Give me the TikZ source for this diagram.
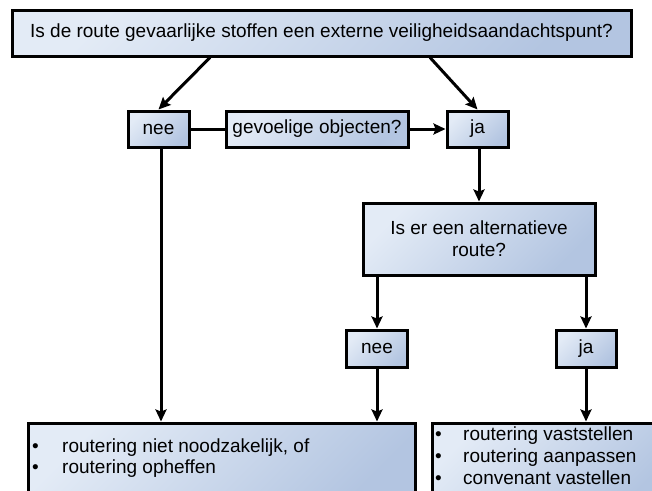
\documentclass[tikz,border=0pt]{standalone}
\usepackage{fontspec}
\setmainfont{Liberation Sans}
\usetikzlibrary{arrows.meta}
\definecolor{boxA}{HTML}{E3EBF6}
\definecolor{boxB}{HTML}{B3C5E1}
\begin{document}
\begin{tikzpicture}[x=1pt,y=-1pt,
  font=\fontsize{19}{22}\selectfont,
  box/.style={draw=black, line width=3pt, rectangle, inner sep=0pt,
    top color=boxA, bottom color=boxB, shading angle=45, align=center},
  conn/.style={line width=3pt},
  arr/.style={conn, -{Stealth[length=12pt,width=11pt,inset=2pt]}},
  txt/.style={anchor=base west, inner sep=0pt}]
\clip (0,0) rectangle (652,490);
\fill[white] (0,0) rectangle (652,490);
% boxes
\node[box, minimum width=619pt, minimum height=46pt] (top) at (321.5,33)
  {Is de route gevaarlijke stoffen een externe veiligheidsaandachtspunt?};
\node[box, minimum width=61pt, minimum height=36pt] (nee) at (158.5,129) {nee};
\node[box, minimum width=182pt, minimum height=36pt] (gev) at (317,129) {gevoelige objecten?};
\node[box, minimum width=61pt, minimum height=36pt] (ja) at (477.5,129) {ja};
\node[box, minimum width=232pt, minimum height=72pt] (alt) at (479,239)
  {Is er een alternatieve\\route?};
\node[box, minimum width=61pt, minimum height=37pt] (nee2) at (377,348.5) {nee};
\node[box, minimum width=60pt, minimum height=37pt] (ja2) at (586,348.5) {ja};
\node[box, minimum width=387pt, minimum height=80pt] (bl) at (221.5,463) {};
\node[box, minimum width=240pt, minimum height=80pt] (br) at (552,463) {};
% texts in bottom boxes
\node[txt] (b1a) at (32,452) {•};
\node[txt] (t1a) at (62,452) {routering niet noodzakelijk, of};
\node[txt] (b1b) at (32,473) {•};
\node[txt] (t1b) at (62,473) {routering opheffen};
\node[txt] (b2a) at (435,440) {•};
\node[txt] (t2a) at (463,440) {routering vaststellen};
\node[txt] (b2b) at (435,462) {•};
\node[txt] (t2b) at (463,462) {routering aanpassen};
\node[txt] (b2c) at (435,484) {•};
\node[txt] (t2c) at (463,484) {convenant vastellen};
% connectors
\draw[arr] ([xshift=-111.5pt]top.south) -- (nee.north);
\draw[arr] ([xshift=108.5pt]top.south) -- (ja.north);
\draw[conn] (nee.east) -- (gev.west);
\draw[arr] (gev.east) -- (ja.west);
\draw[arr] ([xshift=1.5pt]ja.south) -- ([xshift=1.5pt]ja.south |- alt.north);
\draw[arr] ([xshift=2.5pt]nee.south) -- ([xshift=2.5pt]nee.south |- bl.north);
\draw[arr] (alt.south -| nee2.north) -- (nee2.north);
\draw[arr] (alt.south -| ja2.north) -- (ja2.north);
\draw[arr] (nee2.south) -- (nee2.south |- bl.north);
\draw[arr] (ja2.south) -- (ja2.south |- br.north);
\end{tikzpicture}
\end{document}
